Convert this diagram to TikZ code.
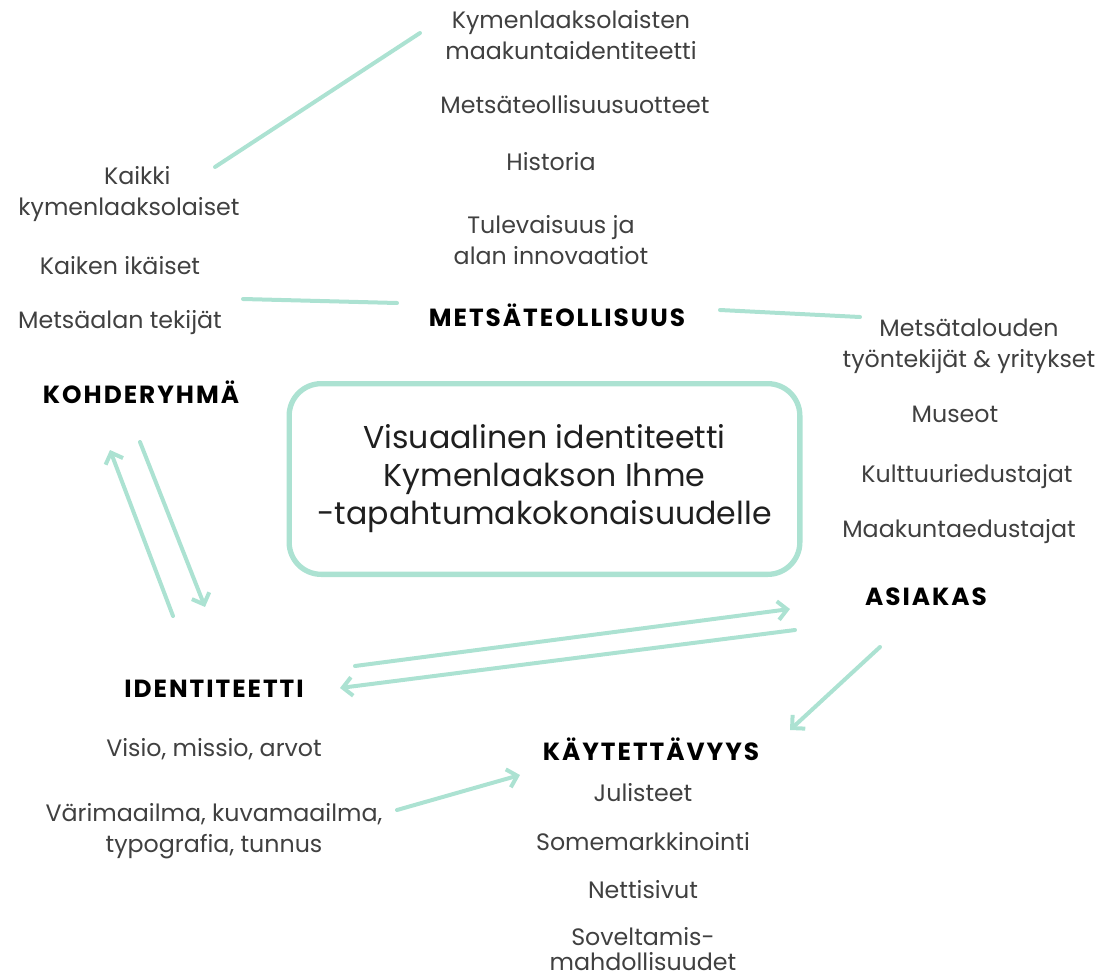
\documentclass[tikz,border=0pt]{standalone}
\usepackage{fontspec}
\setmainfont{Poppins}
\newfontfamily\hdrfont[LetterSpace=8]{Poppins}
\usetikzlibrary{arrows.meta}
\definecolor{mint}{RGB}{172,226,210}
\definecolor{itemgray}{RGB}{64,64,64}
\begin{document}
\begin{tikzpicture}[x=0.75pt,y=-0.75pt,
  item/.style={text=itemgray,font=\fontsize{17.8}{23}\selectfont,align=center,inner sep=0pt},
  hdr/.style={text=black,font=\hdrfont\bfseries\fontsize{18.6}{20}\selectfont,inner sep=0pt},
  link/.style={draw=mint,line width=3pt,line cap=round},
  arr/.style={link,-{Straight Barb[length=7pt,width=14pt,line width=3pt]}},
  mainbox/.style={draw=mint,line width=4pt,rounded corners=24pt,minimum width=383pt,minimum height=143pt,
    align=center,text=black!88,font=\fontsize{23.7}{28.5}\selectfont}]
\useasboundingbox (0,0) rectangle (1111,978);
\node[mainbox] (center) at (544.5,479) {Visuaalinen identiteetti\\Kymenlaakson Ihme\\-tapahtumakokonaisuudelle};
% top group
\node[item] (t1) at (571,35) {Kymenlaaksolaisten\\maakuntaidentiteetti};
\node[item] (t2) at (575,105) {Metsäteollisuusuotteet};
\node[item] (t3) at (551,162) {Historia};
\node[item] (t4) at (551,240) {Tulevaisuus ja\\alan innovaatiot};
\node[hdr] (metsa) at (557,315) {METSÄTEOLLISUUS};
% left group
\node[item] (l1) at (129,194) {\phantom{kym}Kaikki\phantom{sol}\\kymenlaaksolaiset};
\node[item] (l2) at (120,266) {Kaiken ikäiset};
\node[item] (l3) at (120,323) {Metsäalan tekijät};
\node[hdr] (kohde) at (141,392) {KOHDERYHMÄ};
% right group
\node[item] (r1) at (969,346) {Metsätalouden\\työntekijät \& yritykset};
\node[item] (r2) at (955,414) {Museot};
\node[item] (r3) at (967,477) {Kulttuuriedustajat};
\node[item] (r4) at (959,532) {Maakuntaedustajat};
\node[hdr] (asiakas) at (926,597) {ASIAKAS};
% bottom left
\node[hdr] (ident) at (214,689) {IDENTITEETTI};
\node[item] (i1) at (214,749) {Visio, missio, arvot};
\node[item] (i2) at (214,831) {Värimaailma, kuvamaailma,\\typografia, tunnus};
% bottom right
\node[hdr] (kayt) at (651,749) {KÄYTETTÄVYYS};
\node[item] (k1) at (643,793) {Julisteet};
\node[item] (k2) at (643,842) {Somemarkkinointi};
\node[item] (k3) at (643,890) {Nettisivut};
\node[item,font=\fontsize{17.8}{18.5}\selectfont] (k4) at (643,949) {Soveltamis-\\mahdollisuudet};
% connector end points
\coordinate (a1) at (215,167); \coordinate (a2) at (420,33);
\coordinate (b1) at (243,299); \coordinate (b2) at (397,303);
\coordinate (c1) at (720,310); \coordinate (c2) at (860,317);
\coordinate (d1) at (140,442); \coordinate (d2) at (205,607);
\coordinate (e1) at (173,616); \coordinate (e2) at (110,450);
\coordinate (f1) at (355,666); \coordinate (f2) at (790,609);
\coordinate (g1) at (795,630); \coordinate (g2) at (340,688);
\coordinate (h1) at (880,647); \coordinate (h2) at (790,730);
\coordinate (j1) at (397,810); \coordinate (j2) at (520,775);
\draw[link] (a1) -- (a2);
\draw[link] (b1) -- (b2);
\draw[link] (c1) -- (c2);
\draw[arr] (d1) -- (d2);
\draw[arr] (e1) -- (e2);
\draw[arr] (f1) -- (f2);
\draw[arr] (g1) -- (g2);
\draw[arr] (h1) -- (h2);
\draw[arr] (j1) -- (j2);
\end{tikzpicture}
\end{document}
